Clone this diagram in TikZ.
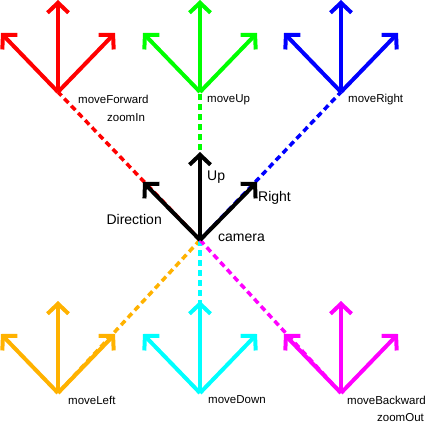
\documentclass[tikz,border=0pt]{standalone}
\usepackage{fontspec}
\setmainfont{Liberation Sans}
\usetikzlibrary{arrows.meta,positioning}
\definecolor{amber}{RGB}{255,178,0}
\definecolor{aqua}{RGB}{0,255,255}
\definecolor{fuchsia}{RGB}{255,0,255}
\definecolor{lime}{RGB}{0,255,0}

\begin{document}
\begin{tikzpicture} [
    x=1pt, y=-1pt,
    vec/.style = {line width=4pt, -{Straight Barb[length=10pt,width=21pt]}},
    trail/.style = {line width=3.5pt, dash pattern=on 6pt off 4pt},
    tag/.style = {inner sep=0pt, font=\fontsize{11.5}{12}\selectfont},
    axis/.style = {inner sep=0pt, font=\fontsize{14}{15}\selectfont}
]
    \useasboundingbox (0,0) rectangle (436,423);

    \coordinate (cam) at (200,240);
    \coordinate (forward) at (58,92);
    \coordinate (upward) at (200,92);
    \coordinate (rightward) at (341,92);
    \coordinate (leftward) at (58,393);
    \coordinate (downward) at (200,393);
    \coordinate (backward) at (341,393);

    % dashed paths to the camera
    \foreach \p/\c in {forward/red, upward/lime, rightward/blue, leftward/amber, downward/aqua, backward/fuchsia}
        \draw[trail, color=\c] (cam) -- (\p);

    \foreach \p/\c in {forward/red, upward/lime, rightward/blue, leftward/amber, downward/aqua, backward/fuchsia} {
        \draw[vec, color=\c] (\p) -- ++(0,-92);
        \draw[vec, color=\c] (\p) -- ++(-57,-59);
        \draw[vec, color=\c] (\p) -- ++(57,-59);
    }

    % camera axes
    \draw[vec] (cam) -- ++(0,-88);
    \draw[vec] (cam) -- ++(-57,-58);
    \draw[vec] (cam) -- ++(57,-58);

    \node[tag, right=20pt of forward, yshift=-7pt] (lforward) {moveForward};
    \node[tag, anchor=west] (lzoomin) at (107,118) {zoomIn};
    \node[tag, right=7pt of upward, yshift=-8pt] (lupward) {moveUp};
    \node[tag, right=7pt of rightward, yshift=-8pt] (lrightward) {moveRight};
    \node[tag, right=10pt of leftward, yshift=-7pt] (lleftward) {moveLeft};
    \node[tag, right=8pt of downward, yshift=-7pt] (ldownward) {moveDown};
    \node[tag, right=6pt of backward, yshift=-7pt] (lbackward) {moveBackward};
    \node[tag, anchor=west] (lzoomout) at (377,418) {zoomOut};

    \node[axis, anchor=west] (lup) at (207,177) {Up};
    \node[axis, anchor=west] (lright) at (258,198) {Right};
    \node[axis, anchor=east] (ldir) at (162,219) {Direction};
    \node[axis, right=18pt of cam, yshift=2pt] (lcam) {camera};
\end{tikzpicture}
\end{document}
